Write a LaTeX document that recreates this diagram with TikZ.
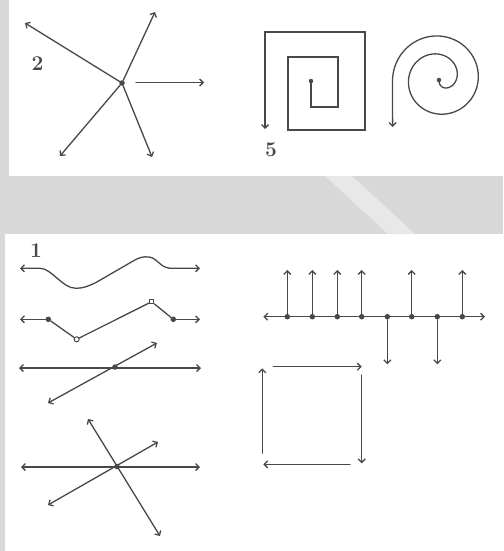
\documentclass[tikz,border=0pt]{standalone}
\usetikzlibrary{arrows.meta}
\definecolor{ink}{RGB}{72,72,72}
\definecolor{bggray}{RGB}{216,216,216}
\definecolor{stripe}{RGB}{232,232,232}
\tikzset{
  ln/.style={draw=ink, line width=1.3pt, line cap=round},
  tip/.tip={Straight Barb[length=3.5pt,width=7pt]},
  arr/.style={ln, -tip},
  darr/.style={ln, tip-tip},
  dotn/.style={circle, fill=ink, inner sep=0pt, minimum size=5.5pt},
  ocirc/.style={circle, draw=ink, fill=white, line width=1pt, inner sep=0pt, minimum size=5pt},
  osq/.style={rectangle, draw=ink, fill=white, line width=1pt, inner sep=0pt, minimum size=4.5pt},
  lbl/.style={font=\fontsize{21}{21}\selectfont\bfseries, text=ink, inner sep=0pt}
}
\begin{document}
\begin{tikzpicture}[x=1pt,y=-1pt]
\useasboundingbox (0,0) rectangle (503,551);
% background panels
\fill[bggray] (0,0) rectangle (503,551);
\fill[white] (9,0) rectangle (503,176);
\fill[white] (5,234) rectangle (503,551);
\fill[stripe] (325,176) -- (352,176) -- (415,234) -- (388,234) -- cycle;

% ---------- figure 2: star ----------
\node[lbl] (n2) at (37.5,63.5) {2};
\node[dotn] (c2) at (122,83) {};
\coordinate (s1) at (25,23);
\coordinate (s2) at (155,12);
\coordinate (s3a) at (136,82.5);
\coordinate (s3b) at (204,82.5);
\coordinate (s4) at (60,156);
\coordinate (s5) at (152,157);
\draw[arr] (c2) -- (s1);
\draw[arr] (c2) -- (s2);
\draw[arr] (s3a) -- (s3b);
\draw[arr] (c2) -- (s4);
\draw[arr] (c2) -- (s5);

% ---------- figure 5: square spiral ----------
\node[lbl] (n5) at (271,149.5) {5};
\node[dotn, minimum size=4.5pt] (q0) at (311,81) {};
\coordinate (q1) at (311,107);
\coordinate (q2) at (338,107);
\coordinate (q3) at (338,57);
\coordinate (q4) at (288,57);
\coordinate (q5) at (288,130);
\coordinate (q6) at (365,130);
\coordinate (q7) at (365,32);
\coordinate (q8) at (265,32);
\coordinate (q9) at (265,129);
\draw[arr, line cap=butt] (q0.center) -- (q1) -- (q2) -- (q3) -- (q4) -- (q5) -- (q6) -- (q7) -- (q8) -- (q9);

% ---------- round spiral ----------
\node[dotn, minimum size=4.5pt] (r0) at (439,80) {};
\coordinate (r1) at (392.6,127);
\draw[arr] plot[domain=0:630, samples=160, variable=\t]
  ({439 + 1.85*sqrt(\t)*cos(\t-90)}, {79 - 1.85*sqrt(\t)*sin(\t-90)}) -- (r1);

% ---------- figure 1 ----------
\node[lbl] (n1) at (36,250.5) {1};
% row 1: wave
\coordinate (w0) at (20,268.3);
\coordinate (w1) at (200,268.3);
\draw[darr] (w0) -- (40,268.3) .. controls (52,268.3) and (62,288.3) .. (76,288.3)
  .. controls (83,288.3) and (89,286) .. (96,282.5) -- (134,260.5)
  .. controls (141,256.5) and (149,255) .. (155,259.5)
  .. controls (161,264) and (163,268.3) .. (172,268.3) -- (w1);
% row 2: broken line
\coordinate (b0) at (20,319.3);
\node[dotn] (b1) at (48.3,319.3) {};
\node[ocirc] (b2) at (76.7,339.3) {};
\node[osq] (b3) at (151.7,301.7) {};
\node[dotn] (b4) at (173.3,319.3) {};
\coordinate (b5) at (200,319.3);
\draw[ln, tip-] (b0) -- (b1);
\draw[ln] (b1) -- (b2);
\draw[ln] (b2) -- (b3);
\draw[ln] (b3) -- (b4);
\draw[arr] (b4) -- (b5);
% row 3: crossing line
\coordinate (h0) at (19,368);
\coordinate (h1) at (201,368);
\coordinate (d0) at (48,403);
\coordinate (d1) at (157,343);
\draw[darr] (h0) -- (h1);
\draw[darr] (d0) -- (d1);
\node[dotn] (x3) at (115,367) {};
% row 4: three lines through a point
\coordinate (k0) at (21,467);
\coordinate (k1) at (200,467);
\coordinate (k2) at (88,419);
\coordinate (k3) at (160,536);
\coordinate (k4) at (48,505);
\coordinate (k5) at (158,442);
\draw[darr] (k0) -- (k1);
\draw[darr] (k2) -- (k3);
\draw[darr] (k4) -- (k5);
\node[dotn] (x4) at (117,466.5) {};

% ---------- number line with vectors ----------
\coordinate (L0) at (263.3,316.7);
\coordinate (L1) at (485,316.7);
\draw[darr] (L0) -- (L1);
\foreach \x/\n in {287.3/a,312.3/b,337.3/c,361.7/d,411.7/f,462.3/h}{
  \node[dotn] (u\n) at (\x,316.7) {};
  \coordinate (ut\n) at (\x,270);
  \draw[arr] (u\n) -- (ut\n);
}
\foreach \x/\n in {387.3/e,437.3/g}{
  \node[dotn] (v\n) at (\x,316.7) {};
  \coordinate (vt\n) at (\x,364.3);
  \draw[arr] (v\n) -- (vt\n);
}

% ---------- square of arrows ----------
\coordinate (t0) at (273.3,366.7);
\coordinate (t1) at (361.7,366.7);
\coordinate (g0) at (361.7,375);
\coordinate (g1) at (361.7,463.3);
\coordinate (m0) at (350,464.3);
\coordinate (m1) at (263.3,464.3);
\coordinate (l0) at (262.3,453.3);
\coordinate (l1) at (262.3,368.3);
\draw[arr] (t0) -- (t1);
\draw[arr] (g0) -- (g1);
\draw[arr] (m0) -- (m1);
\draw[arr] (l0) -- (l1);
\end{tikzpicture}
\end{document}
